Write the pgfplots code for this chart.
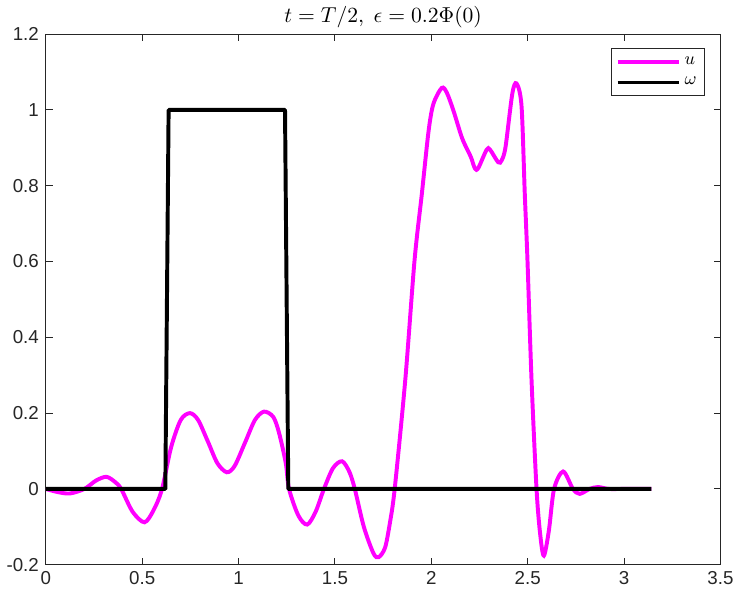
\documentclass[border=0pt]{standalone}
\usepackage{fontspec}
\setmainfont{Liberation Sans}
\usepackage{pgfplots}
\pgfplotsset{compat=1.18}
\definecolor{axgray}{gray}{0.15}
\definecolor{mlmagenta}{rgb}{1,0,1}
\begin{document}
\begin{tikzpicture}
\begin{axis}[
    scale only axis,
    width=342pt, height=269pt,
    xmin=0, xmax=3.5, ymin=-0.2, ymax=1.2,
    xtick={0,0.5,...,3.5},
    ytick={-0.2,0,0.2,0.4,0.6,0.8,1,1.2},
    tick align=inside,
    major tick length=3.5pt,
    axis line style={axgray, line width=0.5pt},
    every tick/.style={axgray, line width=0.5pt},
    tick label style={font=\fontsize{9.5}{11}\selectfont, text=axgray},
    /pgf/number format/assume math mode=true,
    title={$t=T/2,\ \epsilon=0.2\Phi(0)$},
    title style={font=\fontsize{10.5}{12}\selectfont, yshift=-6.5pt},
    legend style={at={(0.977,0.973)}, anchor=north east, draw=axgray,
        font=\fontsize{9}{11}\selectfont, row sep=1pt, inner sep=2pt},
    legend cell align=left,
    legend image code/.code={\draw[#1] (0pt,0pt) -- (31pt,0pt);},
]
\addplot[mlmagenta, line width=2pt, smooth, tension=0.5] coordinates {
(0,0.000) (0.06,-0.008) (0.124,-0.012) (0.20,0.000) (0.26,0.022) (0.314,0.032)
(0.36,0.018) (0.391,0.000) (0.45,-0.060) (0.512,-0.088) (0.56,-0.055) (0.603,0.000)
(0.65,0.110) (0.70,0.182) (0.748,0.200) (0.79,0.182) (0.84,0.126) (0.89,0.068)
(0.939,0.044) (0.98,0.061) (1.035,0.124) (1.085,0.182) (1.132,0.204) (1.18,0.190)
(1.21,0.148) (1.245,0.068)
(1.262,0.000) (1.31,-0.070) (1.356,-0.094) (1.40,-0.060) (1.443,0.000) (1.49,0.055)
(1.537,0.073) (1.575,0.045) (1.603,0.000) (1.65,-0.100) (1.70,-0.170) (1.727,-0.180)
(1.76,-0.155) (1.785,-0.090) (1.810,0.000) (1.865,0.288) (1.913,0.603) (1.951,0.779)
(1.986,0.945) (2.011,1.016) (2.054,1.058) (2.080,1.046) (2.115,0.998) (2.158,0.928)
(2.189,0.893) (2.206,0.875) (2.227,0.845) (2.244,0.847) (2.287,0.895) (2.305,0.895)
(2.347,0.862) (2.365,0.867) (2.385,0.902) (2.420,1.042) (2.442,1.070) (2.468,1.011)
(2.485,0.779) (2.499,0.603) (2.520,0.288) (2.546,0.000) (2.565,-0.120) (2.584,-0.176)
(2.61,-0.110) (2.637,0.000) (2.684,0.046) (2.735,0.000) (2.770,-0.013) (2.821,0.000)
(2.865,0.005) (2.92,0.000) (3.0,0.000) (3.1416,0.000)
};
\addlegendentry{$u$}
\addplot[black, line width=2pt, line join=round] coordinates {
(0,0) (0.620,0) (0.637,1) (1.241,1) (1.258,0) (3.1416,0)
};
\addlegendentry{$\omega$}
\end{axis}
\end{tikzpicture}
\end{document}
